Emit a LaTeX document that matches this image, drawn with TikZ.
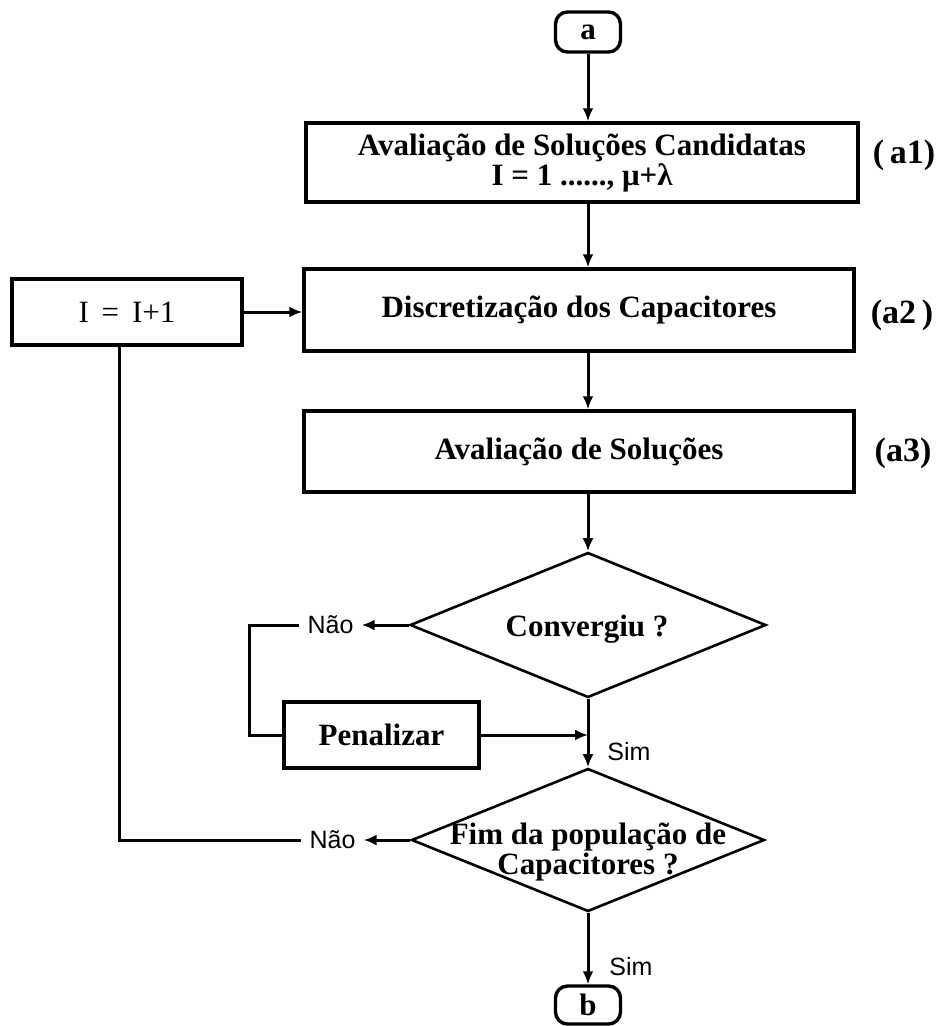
\documentclass[tikz,border=0pt]{standalone}
\usepackage{fontspec}
\setmainfont{Liberation Serif}
\newfontfamily\labfont{Liberation Sans}
\usetikzlibrary{shapes.geometric,arrows.meta}
\begin{document}
\begin{tikzpicture}[x=1pt,y=-1pt,
  procbox/.style={draw,line width=3.4pt,inner sep=0pt,font=\fontsize{31}{30}\selectfont\bfseries,align=center},
  term/.style={draw,rectangle,rounded corners=12pt,line width=3.4pt,inner sep=0pt,minimum width=65pt,minimum height=40pt,font=\fontsize{31}{31}\selectfont\bfseries},
  decision/.style={draw,diamond,line width=2.6pt,inner sep=0pt},
  dtext/.style={font=\fontsize{31}{28}\selectfont\bfseries,align=center,inner sep=0pt},
  yn/.style={font=\labfont\fontsize{25}{25}\selectfont,inner xsep=8pt,inner ysep=0pt},
  tag/.style={font=\fontsize{34}{34}\selectfont\bfseries,inner sep=0pt},
  conn/.style={line width=3pt},
  arr/.style={conn,-{Latex[length=13pt,width=11pt]}}]
\fill[white] (0,0) rectangle (944,1026);
\useasboundingbox (0,0) rectangle (944,1026);

% terminals
\node[term] (a) at (588,32) {a};
\node[term,minimum height=38pt] (b) at (588,1005) {b};

% process boxes
\node[procbox,minimum width=552pt,minimum height=79pt] (b1) at (582,162.5) {Avaliação de Soluções Candidatas\\I = 1 ......, μ+λ};
\node[procbox,minimum width=550pt,minimum height=82pt] (b2) at (579,310) {Discretização dos Capacitores};
\node[procbox,minimum width=550pt,minimum height=81pt] (b3) at (579,451.5) {Avaliação de Soluções};
\node[procbox,font=\fontsize{31}{30}\selectfont,minimum width=230pt,minimum height=66pt] (inc) at (127,312) {I\, = \,I+1};
\node[procbox,minimum width=195pt,minimum height=66pt] (pen) at (381.5,735) {Penalizar};

% decisions
\node[decision,minimum width=356pt,minimum height=145pt] (d1) at (588,625) {};
\node[dtext] (t1) at (587,629) {Convergiu ?};
\node[decision,minimum width=353pt,minimum height=143pt] (d2) at (588,840) {};
\node[dtext] (t2) at (588,852) {Fim da população de\\Capacitores ?};

% step tags
\node[tag] (l1) at (904,155) {(\,a1)};
\node[tag] (l2) at (902,315) {(a2\,)};
\node[tag] (l3) at (903,453) {(a3)};

% yes / no labels
\node[yn] (n1) at (330.5,625) {Não};
\node[yn] (n2) at (332.5,840) {Não};
\node[yn] (s1) at (629,752) {Sim};
\node[yn] (s2) at (631,967) {Sim};

\coordinate (k1) at (249,625);
\coordinate (k2) at (119,840);

% connectors
\draw[arr] (a.south) -- (a.south |- b1.north);
\draw[arr] (a.south |- b1.south) -- (a.south |- b2.north);
\draw[arr] (a.south |- b2.south) -- (a.south |- b3.north);
\draw[arr] (a.south |- b3.south) -- (d1.north);
\draw[arr] (inc.east) -- (inc.east -| b2.west);
\draw[arr] (d1.west) -- (n1.east);
\draw[conn] (n1.west) -- (k1) |- (pen.west);
\draw[arr] (pen.east) -- (pen.east -| d1.south);
\draw[arr] (d1.south) -- (d2.north);
\draw[arr] (d2.west) -- (n2.east);
\draw[conn] (n2.west) -- (k2) -- (k2 |- inc.south);
\draw[arr] (d2.south) -- (b.north);
\end{tikzpicture}
\end{document}
